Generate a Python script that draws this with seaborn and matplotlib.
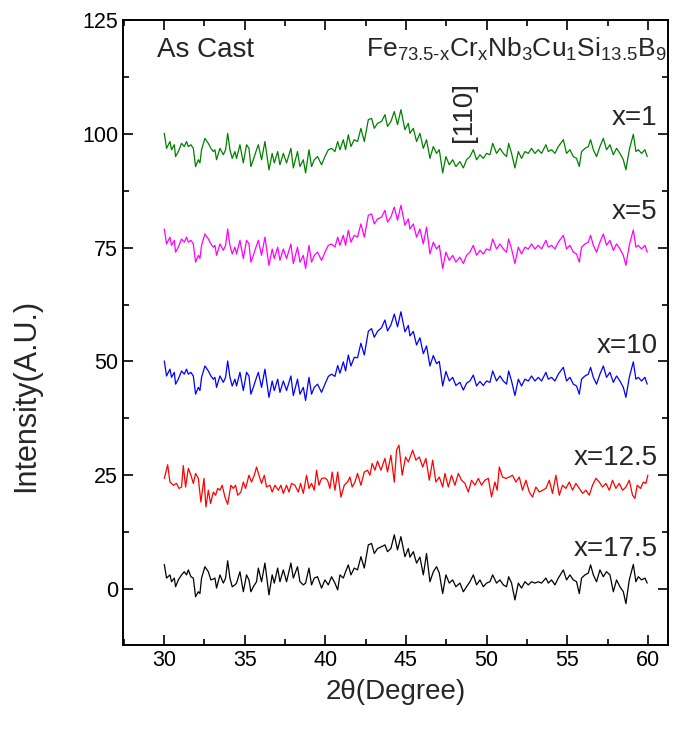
import numpy as np
import pandas as pd
import matplotlib
matplotlib.use("Agg")
import matplotlib.pyplot as plt
from matplotlib.ticker import MultipleLocator
import seaborn as sns

# ---------------- data ----------------
two_theta = [
    30.02, 30.16, 30.37, 30.47, 30.64, 30.72, 30.89, 31.09, 31.26, 31.40,
    31.51, 31.67, 31.82, 31.96, 32.13, 32.23, 32.33, 32.54, 32.75, 32.91,
    33.06, 33.16, 33.26, 33.47, 33.68, 33.82, 33.95, 34.09, 34.23, 34.40,
    34.50, 34.71, 34.92, 35.12, 35.27, 35.39, 35.54, 35.74, 35.85, 36.05,
    36.26, 36.51, 36.71, 36.84, 37.05, 37.19, 37.40, 37.60, 37.87, 38.02,
    38.28, 38.43, 38.64, 38.78, 38.99, 39.15, 39.32, 39.52, 39.77, 39.98,
    40.19, 40.39, 40.60, 40.77, 40.91, 41.12, 41.26, 41.43, 41.59, 41.80,
    42.00, 42.21, 42.42, 42.67, 42.87, 43.04, 43.24, 43.49, 43.70, 43.86,
    44.07, 44.28, 44.48, 44.69, 44.94, 45.15,
    45.25, 45.46, 45.66, 45.87, 46.08, 46.28, 46.49, 46.70, 46.90, 47.07,
    47.28, 47.48, 47.69, 47.90, 48.10, 48.35, 48.56, 48.76, 48.97, 49.18,
    49.38, 49.59, 49.80, 50.00, 50.21, 50.38, 50.62, 50.83, 51.04, 51.24,
    51.37, 51.55, 51.76, 51.97, 52.17, 52.38, 52.59, 52.79, 53.00, 53.21,
    53.41, 53.68, 53.83, 54.03, 54.24, 54.45, 54.76, 54.96, 55.17, 55.38,
    55.58, 55.75, 55.89, 56.10, 56.31, 56.45, 56.62, 56.82, 57.03, 57.24,
    57.44, 57.65, 57.86, 58.06, 58.27, 58.48, 58.64, 58.85, 59.10, 59.26,
    59.41, 59.61, 59.82, 59.96,
]

int_x1 = [
    100.1, 96.8, 98.3, 96.5, 97.6, 95.0, 96.1, 97.9, 97.2, 98.3,
    97.2, 97.6, 96.8, 92.8, 94.3, 93.6, 96.5, 99.0, 97.9, 96.8,
    96.1, 96.5, 94.3, 96.8, 95.4, 96.5, 100.1, 96.5, 94.6, 96.1,
    94.6, 97.6, 93.6, 97.6, 96.8, 92.8, 94.3, 96.5, 97.6, 94.3,
    98.3, 92.1, 95.7, 93.6, 96.1, 93.2, 95.7, 93.6, 96.8, 92.5,
    96.1, 92.8, 94.3, 91.4, 96.5, 92.8, 94.3, 95.0, 93.2, 95.0,
    96.5, 96.8, 96.1, 98.3, 96.5, 98.7, 96.5, 99.8, 97.2, 98.7,
    98.3, 101.2, 98.3, 103.1, 103.4, 101.2, 102.3, 102.7, 104.2, 101.6,
    102.7, 104.9, 102.0, 105.3, 100.9, 102.3,
    100.1, 101.2, 98.3, 100.1, 96.8, 98.7, 94.6, 97.2, 95.7, 96.5,
    91.4, 95.0, 93.2, 94.3, 92.8, 93.9, 92.5, 94.3, 95.0, 96.5,
    94.3, 95.4, 94.6, 95.7, 95.4, 97.9, 95.7, 96.8, 95.7, 95.0,
    97.9, 95.7, 92.5, 96.1, 94.6, 96.1, 95.7, 96.8, 95.7, 96.5,
    95.7, 97.6, 96.1, 96.5, 95.7, 97.2, 98.7, 95.7, 96.5, 95.0,
    94.6, 92.8, 96.1, 96.8, 97.2, 98.7, 96.5, 95.0, 97.2, 99.0,
    96.5, 97.6, 95.4, 96.8, 95.7, 94.3, 92.1, 96.5, 99.9, 96.1,
    96.5, 95.7, 96.5, 95.0,
]

int_x5 = [
    79.1, 75.8, 77.3, 75.5, 76.6, 74.0, 75.1, 76.9, 76.2, 77.3,
    76.2, 76.6, 75.8, 71.8, 73.3, 72.6, 75.5, 78.0, 76.9, 75.8,
    75.1, 75.5, 73.3, 75.8, 74.4, 75.5, 79.1, 75.5, 73.6, 75.1,
    73.6, 76.6, 72.6, 76.6, 75.8, 71.8, 73.3, 75.5, 76.6, 73.3,
    77.3, 71.1, 74.7, 72.6, 75.1, 72.2, 74.7, 72.6, 75.8, 71.5,
    75.1, 71.8, 73.3, 70.4, 75.5, 71.8, 73.3, 74.0, 72.2, 74.0,
    75.5, 75.8, 75.1, 77.3, 75.5, 77.7, 75.5, 78.8, 76.2, 77.7,
    77.3, 80.2, 77.3, 82.1, 82.4, 80.2, 81.3, 81.7, 83.2, 80.6,
    81.7, 83.9, 81.0, 84.3, 79.9, 81.3,
    79.1, 80.2, 77.3, 79.1, 75.8, 79.5, 73.6, 76.2, 74.7, 75.5,
    70.4, 74.0, 72.2, 73.3, 71.8, 72.9, 71.5, 73.3, 74.0, 75.5,
    73.3, 74.4, 73.6, 74.7, 74.4, 76.9, 74.7, 75.8, 74.7, 74.0,
    76.9, 74.7, 71.5, 75.1, 73.6, 75.1, 74.7, 75.8, 74.7, 75.5,
    74.7, 76.6, 75.1, 75.5, 74.7, 76.2, 77.7, 74.7, 75.5, 74.0,
    73.6, 71.8, 75.1, 75.8, 76.2, 77.7, 75.5, 74.0, 76.2, 78.0,
    75.5, 76.6, 74.4, 75.8, 74.7, 73.3, 71.1, 75.5, 78.9, 75.1,
    75.5, 74.7, 75.5, 74.0,
]

int_x10 = [
    50.1, 46.8, 48.3, 46.5, 47.6, 45.0, 46.1, 47.9, 47.2, 48.3,
    47.2, 47.6, 46.8, 42.8, 44.3, 43.6, 46.5, 49.0, 47.9, 46.8,
    46.1, 46.5, 44.3, 46.8, 45.4, 46.5, 50.1, 46.5, 44.6, 46.1,
    44.6, 47.6, 43.6, 47.6, 46.8, 42.8, 44.3, 46.5, 47.6, 44.3,
    48.3, 42.1, 45.7, 43.6, 46.1, 43.2, 45.7, 43.6, 46.8, 42.5,
    46.1, 42.8, 44.3, 41.4, 46.5, 42.8, 44.3, 45.0, 43.2, 45.0,
    46.7, 47.2, 46.7, 49.1, 47.4, 49.9, 47.9, 51.4, 49.0, 50.9,
    50.8, 54.0, 51.4, 56.6, 57.2, 55.3, 56.6, 57.4, 59.1, 56.7,
    58.0, 60.4, 57.6, 60.9, 56.5, 57.9,
    55.6, 56.6, 53.6, 55.2, 51.7, 53.4, 49.0, 51.3, 49.5, 50.0,
    44.6, 47.8, 45.7, 46.5, 44.7, 45.4, 43.7, 45.2, 45.7, 47.0,
    44.6, 45.6, 44.7, 45.7, 45.4, 47.9, 45.7, 46.8, 45.7, 45.0,
    47.9, 45.7, 42.5, 46.1, 44.6, 46.1, 45.7, 46.8, 45.7, 46.5,
    45.7, 47.6, 46.1, 46.5, 45.7, 47.2, 48.7, 45.7, 46.5, 45.0,
    44.6, 42.8, 46.1, 46.8, 47.2, 48.7, 46.5, 45.0, 47.2, 49.0,
    46.5, 47.6, 45.4, 46.8, 45.7, 44.3, 42.1, 46.5, 49.9, 46.1,
    46.5, 45.7, 46.5, 45.0,
]

int_x17_5 = [
    5.4, 2.4, 3.1, 1.6, 2.4, 0.5, 2.0, 3.1, 3.8, 3.1,
    4.2, 2.7, 2.4, -1.7, -0.6, -1.0, 2.4, 4.9, 3.8, 2.0,
    2.2, 2.4, 0.2, 3.1, 1.3, 2.4, 6.2, 2.4, 0.5, 0.9,
    1.3, 3.8, -0.6, 3.1, 2.0, -0.6, 0.5, 1.6, 4.6, 1.6,
    5.7, -1.3, 3.1, 1.3, 4.6, 1.6, 4.2, 1.6, 5.7, 2.4,
    4.9, 1.6, 0.9, 1.3, 4.6, 0.9, 2.4, 2.7, 0.2, 2.0,
    0.9, 2.7, 1.3, -0.2, 3.1, 2.4, 3.8, 5.3, 3.1, 4.6,
    4.2, 7.1, 4.6, 9.7, 10.0, 7.8, 8.9, 9.3, 9.7, 8.2,
    8.9, 11.9, 8.6, 11.5, 7.1, 8.9,
    7.0, 8.2, 5.7, 7.0, 3.1, 7.8, 1.6, 3.8, 4.9, 3.5,
    -1.0, 3.1, 1.3, 2.0, 0.5, 1.3, -0.6, 0.5, 1.6, 3.1,
    0.9, 2.0, 0.5, 1.3, 1.6, 3.1, 1.3, 2.0, 0.9, 0.5,
    2.7, 1.3, -2.4, 1.3, 0.2, 1.6, 0.9, 1.6, 1.3, 1.6,
    1.3, 2.4, 1.3, 2.0, 0.9, 2.4, 4.2, 2.0, 3.1, 2.0,
    1.6, -1.0, 2.4, 3.1, 3.5, 5.3, 3.1, 1.6, 4.2, 2.7,
    3.8, 3.1, -0.6, 2.0, 0.5, -0.6, -3.2, 2.0, 5.4, 1.6,
    2.7, 2.0, 2.4, 1.3,
]

two_theta_red = [
    30.02, 30.23, 30.37, 30.58, 30.78, 30.93, 31.09, 31.20, 31.34, 31.51,
    31.67, 31.82, 31.96, 32.13, 32.29, 32.48, 32.60, 32.75, 32.89, 33.06,
    33.20, 33.33, 33.47, 33.61, 33.78, 33.95, 34.15, 34.30, 34.44, 34.57,
    34.77, 34.92, 35.06, 35.27, 35.43, 35.60, 35.74, 35.89, 36.05, 36.22,
    36.36, 36.57, 36.71, 36.88, 37.09, 37.25, 37.40, 37.60, 37.75, 37.91,
    38.12, 38.33, 38.47, 38.64, 38.84, 38.99, 39.15, 39.32, 39.46, 39.61,
    39.77, 39.98, 40.14, 40.29, 40.43, 40.60, 40.77, 40.97, 41.18, 41.38,
    41.53, 41.67, 41.84, 42.00, 42.21, 42.42, 42.62, 42.77, 42.91, 43.08,
    43.24, 43.45, 43.70, 43.86, 44.07, 44.28, 44.42, 44.57, 44.77, 44.98,
    45.15,
    45.42, 45.62, 45.83, 46.04, 46.24, 46.45, 46.66, 46.86, 47.07, 47.28,
    47.42, 47.63, 47.83, 48.04, 48.25, 48.45, 48.66, 48.87, 49.07, 49.28,
    49.49, 49.69, 49.90, 50.11, 50.31, 50.52, 50.66, 50.79, 50.99, 51.20,
    51.41, 51.61, 51.82, 52.03, 52.23, 52.44, 52.65, 52.85, 53.06, 53.27,
    53.47, 53.68, 53.89, 54.09, 54.30, 54.51, 54.71, 54.92, 55.13, 55.33,
    55.54, 55.75, 55.96, 56.16, 56.37, 56.57, 56.78, 56.99, 57.19, 57.40,
    57.61, 57.81, 58.02, 58.23, 58.43, 58.64, 58.85, 59.05, 59.20, 59.34,
    59.55, 59.72, 59.88, 60.00,
]

int_x12_5 = [
    24.3, 27.3, 23.5, 22.8, 23.2, 22.1, 22.4, 27.1, 22.4, 26.5,
    25.0, 23.2, 25.4, 24.3, 19.1, 24.3, 18.0, 21.7, 18.8, 21.3,
    20.6, 22.1, 21.7, 22.8, 20.2, 18.6, 22.8, 22.1, 22.8, 20.6,
    21.3, 23.5, 22.1, 25.0, 23.5, 25.0, 26.8, 25.0, 23.2, 25.0,
    22.4, 22.8, 21.3, 22.8, 21.7, 22.8, 21.0, 22.8, 21.3, 23.2,
    22.8, 21.3, 23.2, 21.0, 25.0, 22.1, 23.2, 21.7, 26.1, 22.8,
    24.3, 24.4, 23.9, 22.1, 25.7, 21.7, 25.7, 20.2, 22.8, 23.5,
    24.6, 22.4, 23.5, 25.4, 22.8, 25.7, 26.1, 25.0, 27.6, 26.1,
    28.1, 26.1, 28.7, 25.7, 29.4, 23.5, 30.5, 31.6, 25.0, 29.0,
    27.9,
    30.5, 28.3, 29.0, 26.8, 28.7, 23.9, 28.3, 23.5, 24.6, 22.4,
    25.4, 22.4, 25.0, 22.8, 25.4, 23.9, 23.2, 21.3, 23.9, 22.8,
    24.3, 22.8, 23.9, 24.3, 20.2, 23.5, 21.7, 26.8, 24.6, 24.3,
    24.6, 25.0, 23.5, 24.6, 21.7, 23.9, 21.3, 20.2, 22.4, 21.3,
    21.7, 22.1, 23.9, 21.0, 25.0, 20.6, 22.8, 22.1, 23.5, 21.7,
    23.2, 22.1, 21.0, 21.7, 20.6, 22.8, 24.3, 23.5, 22.4, 23.2,
    21.7, 23.9, 22.1, 23.2, 21.7, 22.4, 23.9, 20.6, 19.9, 22.8,
    22.1, 23.5, 23.2, 25.0,
]

series_labels = ["x=1", "x=5", "x=10", "x=12.5", "x=17.5"]
label_y = [103.5, 82.9, 53.4, 28.8, 8.8]
series_colors = ["#008000", "#FF00FF", "#0000FF", "#FF0000", "#000000"]

x_ticks = [30, 35, 40, 45, 50, 55, 60]
y_ticks = [0, 25, 50, 75, 100, 125]

# ---------------- figure ----------------
sns.set_style("ticks")
plt.rcParams["font.family"] = ["Liberation Sans", "DejaVu Sans"]
plt.rcParams["mathtext.fontset"] = "custom"
plt.rcParams["mathtext.rm"] = "Liberation Sans"
plt.rcParams["mathtext.it"] = "Liberation Sans"
plt.rcParams["mathtext.default"] = "regular"

fig = plt.figure(figsize=(6.88, 7.38), dpi=100)
ax = fig.add_axes([123 / 688, 1 - 645 / 738, (668 - 123) / 688, (645 - 20) / 738])

frames = [
    (two_theta, int_x1),
    (two_theta, int_x5),
    (two_theta, int_x10),
    (two_theta_red, int_x12_5),
    (two_theta, int_x17_5),
]
for (xs, ys), lab, col in zip(frames, series_labels, series_colors):
    df = pd.DataFrame({"two_theta": xs, "intensity": ys})
    sns.lineplot(data=df, x="two_theta", y="intensity", color=col, lw=0.9,
                 ax=ax, estimator=None, sort=False, legend=False)

ax.set_xlim(27.46, 61.25)
ax.set_ylim(-12.3, 125)
ax.set_xticks(x_ticks)
ax.set_yticks(y_ticks)
ax.xaxis.set_minor_locator(MultipleLocator(2.5))
ax.yaxis.set_minor_locator(MultipleLocator(12.5))
ax.tick_params(which="both", direction="in", top=True, right=True,
               width=1.2, labelsize=15.5, colors="black")
ax.tick_params(which="major", length=7)
ax.tick_params(which="minor", length=4)
for s in ax.spines.values():
    s.set_linewidth(1.4)
    s.set_color("black")

ax.set_xlabel("2θ(Degree)", fontsize=20, labelpad=6)
ax.set_ylabel("Intensity(A.U.)", fontsize=22)
ax.yaxis.set_label_coords(41 / 688, (738 - 395) / 738, transform=fig.transFigure)

# annotations
ax.text(29.57, 118.5, "As Cast", fontsize=20, ha="left", va="center")
ax.text(42.55, 118.5,
        r"Fe$_{73.5\text{-}x}$Cr$_{x}$Nb$_{3}$Cu$_{1}$Si$_{13.5}$B$_{9}$",
        fontsize=19, ha="left", va="center")
ax.text(48.6, 104.8, "[110]", fontsize=20, rotation=90, ha="center", va="center")
for lab, yy in zip(series_labels, label_y):
    ax.text(60.6, yy, lab, fontsize=20, ha="right", va="center")

fig.savefig("out.png", dpi=100)
